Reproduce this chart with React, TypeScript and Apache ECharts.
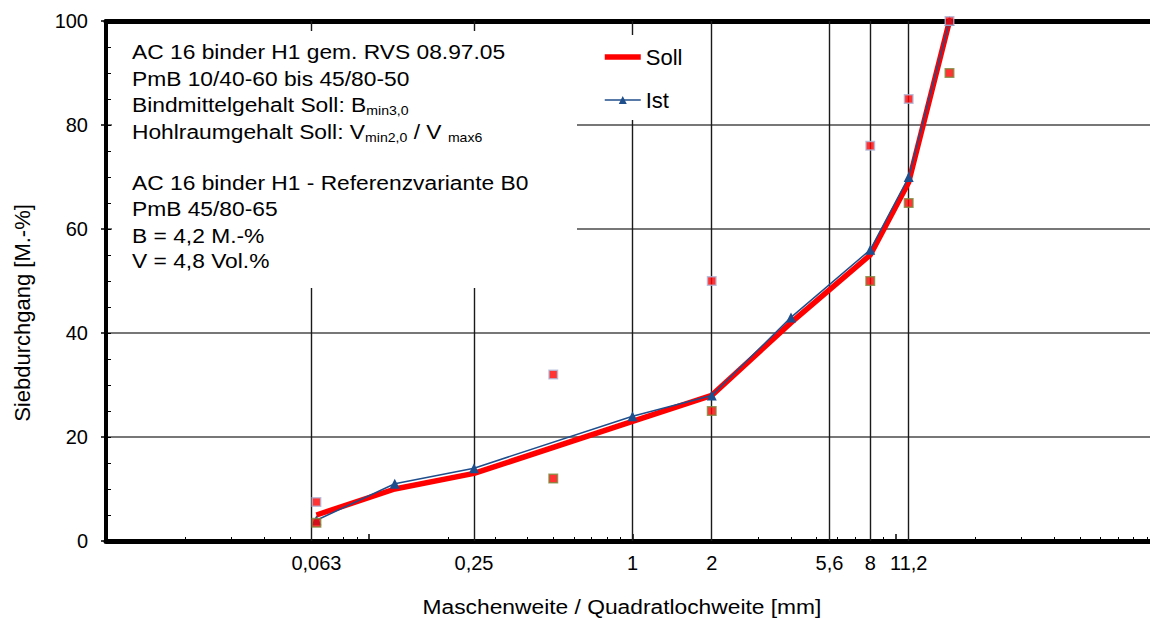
import React, { useEffect, useRef } from 'react';
import * as echarts from 'echarts';

// ---- data ----
const sollSieve = [0.063, 0.125, 0.25, 1, 2, 4, 8, 11.2, 16];
const sollValues = [5, 10, 13, 23, 28, 42, 55, 69, 100];
const istSieve = [0.063, 0.125, 0.25, 1, 2, 4, 8, 11.2, 16];
const istValues = [4, 11, 14, 24, 28, 43, 56, 70, 100];
const limitSieve = [0.063, 0.5, 2, 8, 11.2, 16];
const upperLimit = [7.5, 32, 50, 76, 85, 100];
const lowerLimit = [3.5, 12, 25, 50, 65, 90];

const xLabelValues = [0.063, 0.25, 1, 2, 5.6, 8, 11.2];
const xGridValues = [0.063, 0.25, 1, 2, 5.6, 8, 11.2];
const decadeValues = [0.01, 0.1, 1, 10];
const minorMultipliers = [2, 3, 4, 5, 6, 7, 8, 9];
const decadeTickValues = [0.1, 1, 10];

const noteLines = [
  '{t|AC 16 binder H1 gem. RVS 08.97.05}',
  '{t|PmB 10/40-60 bis 45/80-50}',
  '{t|Bindmittelgehalt Soll: B}{s|min3,0}',
  '{t|Hohlraumgehalt Soll: V}{s|min2,0}{t| / V }{s|max6}',
  '{t|AC 16 binder H1 - Referenzvariante B0}',
  '{t|PmB 45/80-65}',
  '{t|B = 4,2 M.-%}',
  '{t|V = 4,8 Vol.%}',
];
const noteY = [52, 79, 105, 132, 183, 209, 236, 261];

const FONT = "'Liberation Sans', Arial, sans-serif";
const RED = '#ff0000';
const BLUE = '#1F4E8C';

export default function App() {
  const ref = useRef<HTMLDivElement>(null);
  useEffect(() => {
    if (!ref.current) return;
    const chart = echarts.init(ref.current, undefined, { renderer: 'svg' });
    const minorTicks: number[] = [];
    decadeValues.forEach((d) => minorMultipliers.forEach((m) => minorTicks.push(Number((d * m).toPrecision(3)))));
    const fmt = (v: number) => String(Number(Number(v).toPrecision(3))).replace('.', ',');

    const option: any = {
      animation: false,
      textStyle: { fontFamily: FONT },
      grid: { left: 106, right: -9, top: 21, bottom: 78, containLabel: false, outerBoundsMode: 'none' },
      legend: {
        data: [
          { name: 'Soll', itemStyle: { opacity: 0 }, lineStyle: { color: RED, width: 5.5 } },
          { name: 'Ist', lineStyle: { color: BLUE, width: 1.5 } },
        ],
        orient: 'vertical',
        left: 597,
        top: 41,
        itemWidth: 36,
        itemHeight: 10,
        itemGap: 21,
        selectedMode: false,
        textStyle: { fontSize: 22, color: '#000', fontFamily: FONT },
      },
      xAxis: [
        {
          type: 'log', logBase: 10, min: 0.01, max: 100, position: 'bottom',
          axisLine: { show: true, onZero: false, lineStyle: { color: '#000', width: 5 } },
          axisTick: { show: true, inside: true, length: 4, customValues: minorTicks, lineStyle: { color: '#000', width: 1 } },
          axisLabel: { show: true, customValues: xLabelValues, formatter: fmt, fontSize: 20, color: '#000', margin: 12, fontFamily: FONT },
          splitLine: { show: false },
          minorTick: { show: false },
        },
        {
          type: 'log', logBase: 10, min: 0.01, max: 100, position: 'top',
          axisLine: { show: true, onZero: false, lineStyle: { color: '#000', width: 5 } },
          axisTick: { show: false }, axisLabel: { show: false }, splitLine: { show: false },
        },
        {
          type: 'log', logBase: 10, min: 0.01, max: 100, position: 'bottom',
          axisLine: { show: false, onZero: false },
          axisTick: { show: true, inside: true, length: 7, customValues: decadeTickValues, lineStyle: { color: '#000', width: 1.5 } },
          axisLabel: { show: false }, splitLine: { show: false },
        },
      ],
      yAxis: [
        {
          type: 'value', min: 0, max: 100, interval: 20, position: 'left',
          axisLine: { show: true, onZero: false, lineStyle: { color: '#000', width: 4 } },
          axisTick: { show: true, inside: false, length: 5, lineStyle: { color: '#000', width: 1.5 } },
          axisLabel: { fontSize: 20, color: '#000', margin: 18, fontFamily: FONT },
          splitLine: { show: true, lineStyle: { color: '#4a4a4a', width: 1.5 } },
        },
        {
          type: 'value', min: 0, max: 100, interval: 5, position: 'left',
          axisLine: { show: false, onZero: false },
          axisTick: { show: true, inside: true, length: 5, lineStyle: { color: '#000', width: 1 } },
          axisLabel: { show: false }, splitLine: { show: false },
        },
      ],
      series: [
        {
          name: 'grid', type: 'line', data: [], silent: true,
          markLine: {
            silent: true, z: 1, symbol: ['none', 'none'], label: { show: false },
            lineStyle: { color: '#1a1a1a', width: 1.4, type: 'solid' },
            emphasis: { disabled: true },
            data: xGridValues.map((v) => ({ xAxis: v })),
          },
        },
        {
          name: 'Soll', type: 'line', symbol: 'none', z: 2,
          data: sollSieve.map((x, i) => [x, sollValues[i]]),
          lineStyle: { color: RED, width: 5.5 },
          itemStyle: { color: RED },
        },
        {
          name: 'Ist', type: 'line', symbol: 'triangle', symbolSize: 10, z: 3,
          data: istSieve.map((x, i) => [x, istValues[i]]),
          lineStyle: { color: BLUE, width: 1.5 },
          itemStyle: { color: BLUE },
        },
        {
          name: 'Obergrenze', type: 'scatter', symbol: 'rect', symbolSize: 8.5, z: 4,
          data: limitSieve.map((x, i) => [x, upperLimit[i]]),
          itemStyle: { color: RED, borderColor: '#aeb8da', borderWidth: 1.5 },
        },
        {
          name: 'Untergrenze', type: 'scatter', symbol: 'rect', symbolSize: 8.5, z: 4,
          data: limitSieve.map((x, i) => [x, lowerLimit[i]]),
          itemStyle: { color: RED, borderColor: '#7d8a3c', borderWidth: 1.5 },
        },
      ],
      graphic: [
        { type: 'rect', z: 3, silent: true, shape: { x: 112, y: 31, width: 465, height: 257 }, style: { fill: '#fff' } },
        { type: 'rect', z: 3, silent: true, shape: { x: 598, y: 35, width: 102, height: 85 }, style: { fill: '#fff' } },
        ...noteLines.map((t, i) => ({
          type: 'text', z: 11, silent: true, x: 132, y: noteY[i], scaleX: 1.085,
          style: {
            text: t,
            textAlign: 'left',
            textVerticalAlign: 'middle',
            fill: '#000',
            rich: {
              t: { fontSize: 21, fontFamily: FONT, lineHeight: 24, fill: '#000' },
              s: { fontSize: 13, fontFamily: FONT, lineHeight: 10, verticalAlign: 'bottom', fill: '#000' },
            },
          },
        })),
        {
          type: 'text', z: 11, silent: true, x: 622, y: 607, scaleX: 1.085,
          style: { text: 'Maschenweite / Quadratlochweite [mm]', font: `21px ${FONT}`, fill: '#000', textAlign: 'center', textVerticalAlign: 'middle' },
        },
        {
          type: 'text', z: 11, silent: true, x: 22, y: 313, rotation: Math.PI / 2,
          style: { text: 'Siebdurchgang [M.-%]', font: `22px ${FONT}`, fill: '#000', textAlign: 'center', textVerticalAlign: 'middle' },
        },
      ],
    };
    chart.setOption(option);
    return () => chart.dispose();
  }, []);
  return <div ref={ref} style={{ position: 'fixed', left: 0, top: 0, width: 1150, height: 619, background: '#fff' }} />;
}
